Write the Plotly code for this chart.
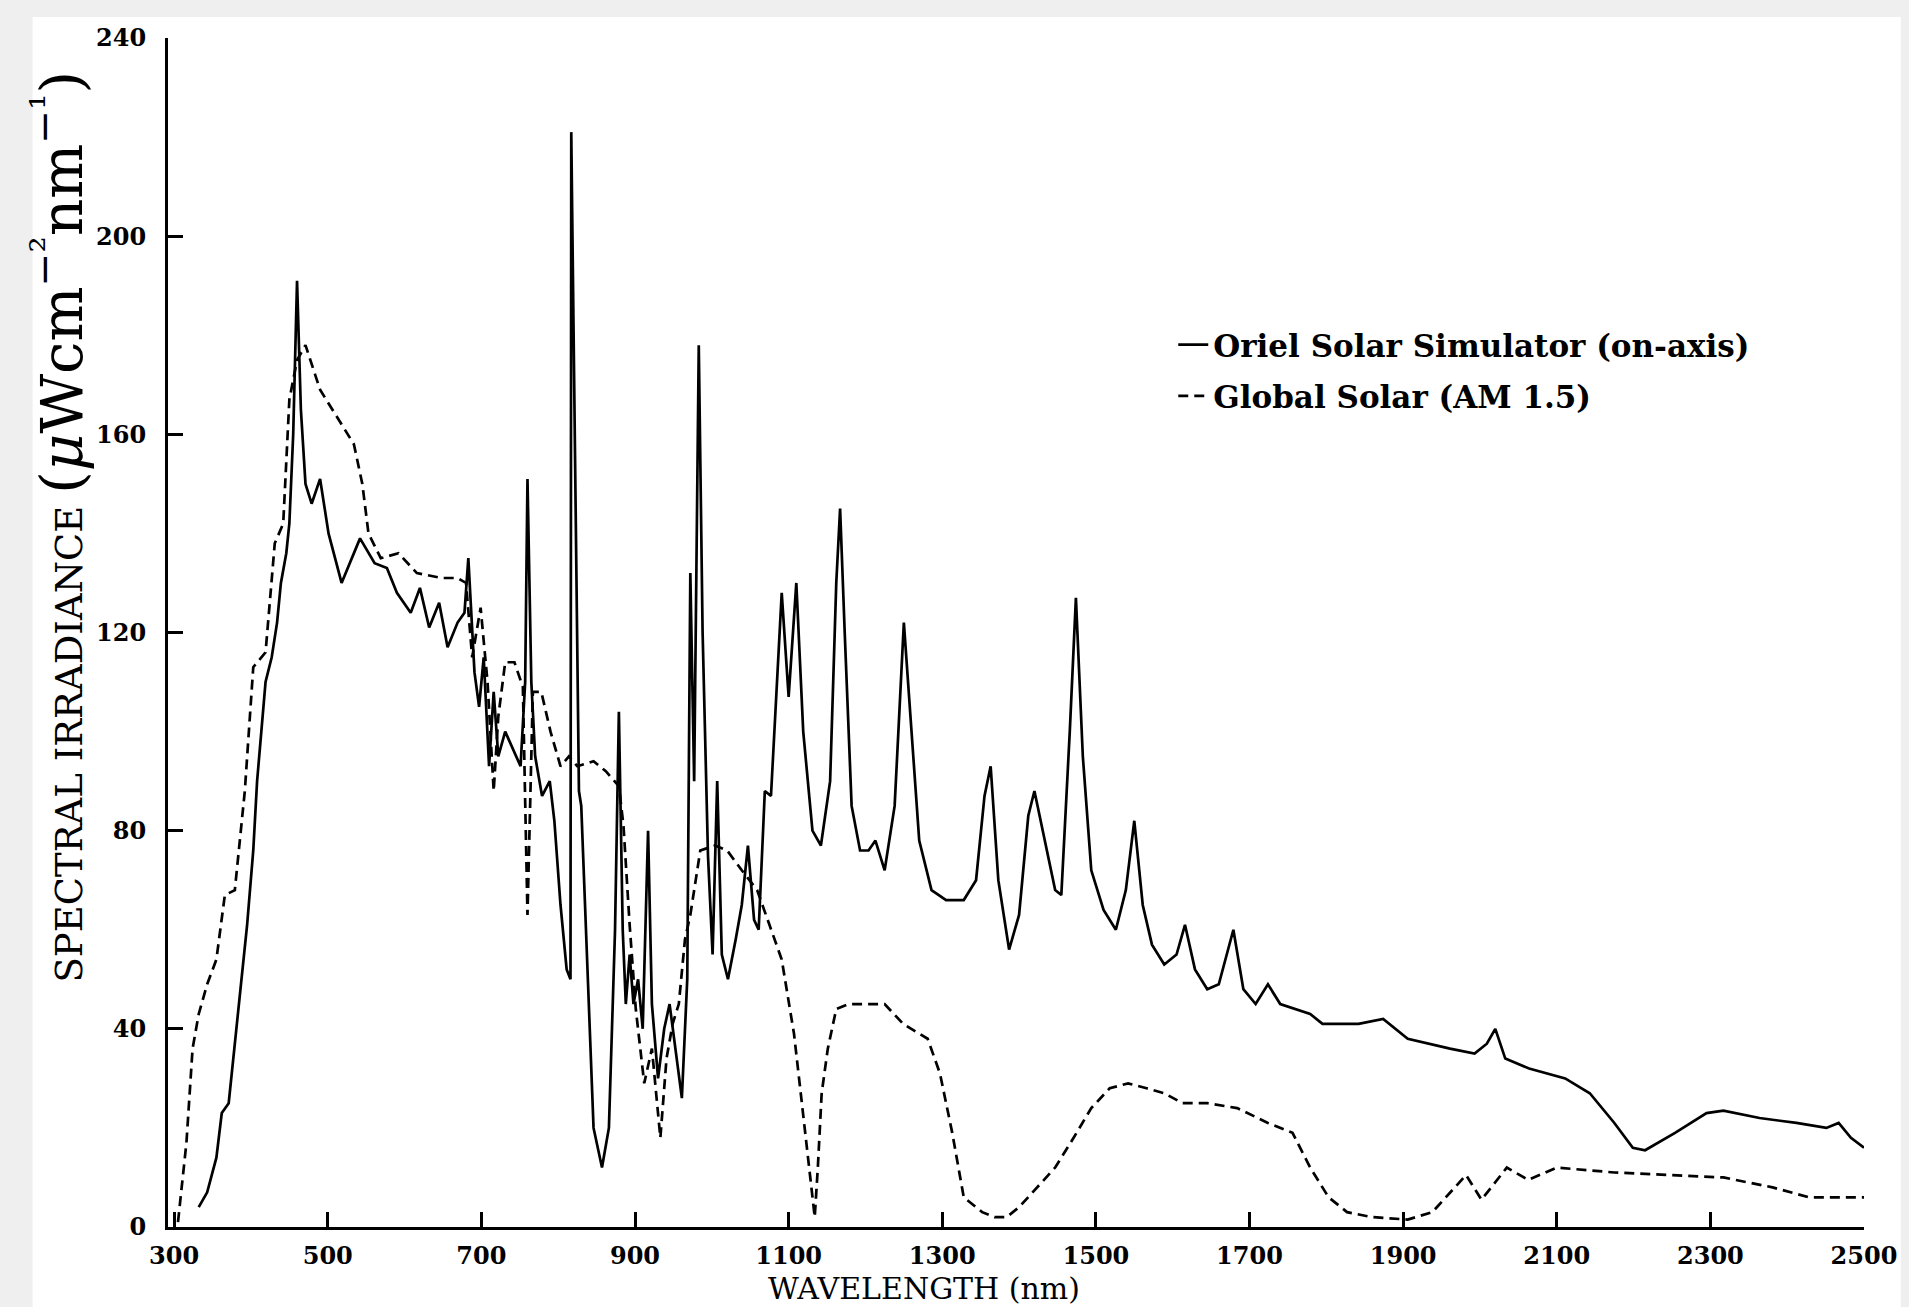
import plotly.graph_objects as go

# ---- Data ----
oriel_nm = [332, 343, 355, 362, 371, 382, 395, 403, 408, 419,
            427, 434, 439, 446, 450, 455, 460, 465, 471, 479,
            490, 501, 518, 542, 561, 577, 590, 608, 620, 632,
            645, 656, 669, 678, 683, 691, 697, 703, 710, 716,
            722, 731, 743, 751, 757, 760, 765, 770, 779, 789,
            795, 803, 811, 816, 817, 822, 827, 830, 839, 846,
            857, 866, 874, 879, 884, 888, 893, 898, 904, 910,
            917, 922, 930, 938, 945, 953, 961, 968, 972, 977,
            983, 988, 995, 1001, 1007, 1013, 1021, 1031, 1039, 1047,
            1055, 1061, 1069, 1077, 1085, 1091, 1100, 1110, 1119, 1131,
            1142, 1154, 1162, 1167, 1173, 1182, 1193, 1204, 1213, 1225,
            1238, 1250, 1260, 1270, 1286, 1305, 1328, 1344, 1355, 1363,
            1373, 1387, 1400, 1412, 1420, 1431, 1447, 1455, 1466, 1474,
            1483, 1494, 1510, 1526, 1539, 1550, 1561, 1573, 1589, 1605,
            1616, 1629, 1645, 1660, 1679, 1692, 1708, 1724, 1740, 1779,
            1795, 1842, 1874, 1906, 1961, 1993, 2009, 2020, 2033, 2064,
            2111, 2143, 2175, 2199, 2215, 2254, 2295, 2317, 2364, 2412,
            2451, 2467, 2483, 2500]
oriel_val = [4, 7, 14, 23, 25, 41, 61, 76, 90, 110,
             115, 122, 130, 136, 142, 160, 191, 165, 150, 146,
             151, 140, 130, 139, 134, 133, 128, 124, 129, 121,
             126, 117, 122, 124, 135, 112, 105, 115, 93, 108,
             95, 100, 96, 93, 110, 151, 110, 95, 87, 90,
             82, 65, 52, 50, 221, 160, 88, 85, 50, 20,
             12, 20, 60, 104, 60, 45, 55, 45, 50, 40,
             80, 45, 30, 40, 45, 35, 26, 50, 132, 90,
             178, 120, 75, 55, 90, 55, 50, 58, 65, 77,
             62, 60, 88, 87, 110, 128, 107, 130, 100, 80,
             77, 90, 130, 145, 120, 85, 76, 76, 78, 72,
             85, 122, 100, 78, 68, 66, 66, 70, 87, 93,
             70, 56, 63, 83, 88, 80, 68, 67, 100, 127,
             95, 72, 64, 60, 68, 82, 65, 57, 53, 55,
             61, 52, 48, 49, 60, 48, 45, 49, 45, 43,
             41, 41, 42, 38, 36, 35, 37, 40, 34, 32,
             30, 27, 21, 16, 15.5, 19, 23, 23.5, 22, 21,
             20, 21, 18, 16]

global_nm = [305, 316, 324, 332, 343, 355, 366, 379, 392, 403,
             419, 431, 442, 450, 460, 471, 490, 514, 534, 545,
             553, 569, 592, 616, 648, 669, 680, 688, 699, 708,
             716, 722, 731, 743, 754, 760, 767, 778, 790, 803,
             814, 825, 846, 862, 879, 885, 893, 901, 912, 922,
             933, 941, 949, 957, 965, 972, 985, 1004, 1020, 1039,
             1059, 1075, 1091, 1107, 1118, 1127, 1134, 1138, 1143, 1151,
             1162, 1178, 1202, 1225, 1249, 1281, 1297, 1313, 1328, 1352,
             1368, 1384, 1400, 1423, 1447, 1471, 1494, 1518, 1542, 1566,
             1589, 1613, 1645, 1684, 1724, 1756, 1779, 1803, 1827, 1859,
             1906, 1938, 1961, 1982, 2002, 2035, 2063, 2100, 2175, 2254,
             2317, 2381, 2428, 2475, 2500]
global_val = [1, 17, 36, 43, 49, 54, 67, 68, 88, 113,
              116, 138, 142, 167, 175, 178, 169, 163, 158, 150,
              140, 135, 136, 132, 131, 131, 130, 115, 125, 110,
              88, 103, 114, 114, 109, 63, 108, 108, 100, 93,
              95, 93, 94, 92, 89, 81, 61, 44, 29, 36,
              18, 34, 41, 45, 58, 63, 76, 77, 76, 72,
              68, 61, 54, 39, 24, 12, 2, 12, 27, 36,
              44, 45, 45, 45, 41, 38, 31, 19, 6, 3,
              2, 2, 4, 8, 12, 18, 24, 28, 29, 28,
              27, 25, 25, 24, 21, 19, 12, 6, 3, 2,
              1.5, 3, 7, 10.5, 5.5, 12, 9.5, 12, 11, 10.5,
              10, 8, 6, 6, 6]

x_ticks = list(range(300, 2501, 200))
y_ticks = list(range(0, 241, 40))

# ---- Geometry (pixels) ----
W, H = 1909, 1307
L, R, T, B = 168, 1872, 38, 1227
pw, ph = R - L, B - T


def px(xp):
    return (xp - L) / pw


def py(yp):
    return (B - yp) / ph


tick_font = dict(family="DejaVu Serif", size=24, color="black", weight="bold")

fig = go.Figure()
fig.add_trace(go.Scatter(
    x=oriel_nm, y=oriel_val, mode="lines",
    name="Oriel Solar Simulator (on-axis)", legendgroup="a",
    line=dict(color="black", width=2.7),
))
fig.add_trace(go.Scatter(
    x=global_nm, y=global_val, mode="lines",
    name="Global Solar (AM 1.5)", legendgroup="b",
    line=dict(color="black", width=2.7, dash="10px,6px"),
))

fig.update_layout(
    width=W, height=H,
    margin=dict(l=L, r=W - R, t=T, b=H - B),
    paper_bgcolor="#efefef",
    plot_bgcolor="white",
    showlegend=True,
    legend=dict(
        x=px(1178), y=py(318), xanchor="left", yanchor="top",
        bgcolor="rgba(0,0,0,0)", borderwidth=0,
        font=dict(family="DejaVu Serif", size=31, color="black", weight="bold"),
        traceorder="grouped", tracegroupgap=8,
    ),
    xaxis=dict(
        range=[292, 2500], tickvals=x_ticks, ticktext=[str(v) for v in x_ticks],
        showline=True, linecolor="black", linewidth=3,
        ticks="inside", ticklen=15, tickwidth=2.5, tickcolor="black",
        showgrid=False, zeroline=False, tickfont=tick_font,
        ticklabelstandoff=5,
    ),
    yaxis=dict(
        range=[0, 240], tickvals=y_ticks, ticktext=[str(v) for v in y_ticks],
        showline=True, linecolor="black", linewidth=3,
        ticks="inside", ticklen=15, tickwidth=2.5, tickcolor="black",
        showgrid=False, zeroline=False, tickfont=tick_font,
        ticklabelstandoff=14,
    ),
    shapes=[dict(
        type="rect", xref="paper", yref="paper",
        x0=px(32), x1=px(1909), y0=py(1307), y1=py(17),
        fillcolor="white", line=dict(width=0), layer="below",
    )],
    annotations=[
        dict(text="WAVELENGTH (nm)", xref="paper", yref="paper",
             x=px(928), y=py(1288), xanchor="center", yanchor="middle",
             showarrow=False,
             font=dict(family="DejaVu Serif", size=30, color="black")),
        dict(text="SPECTRAL IRRADIANCE "
                  "<span style='font-size:58px'>(<i>\u03bc</i>Wcm"
                  "<sup>\u2212\u00b2</sup>nm<sup>\u2212\u00b9</sup>)</span>",
             xref="paper", yref="paper",
             x=px(57), y=py(527), xanchor="center", yanchor="middle",
             textangle=-90, showarrow=False,
             font=dict(family="DejaVu Serif", size=37, color="black")),
    ],
)

fig.write_html("out.html")
